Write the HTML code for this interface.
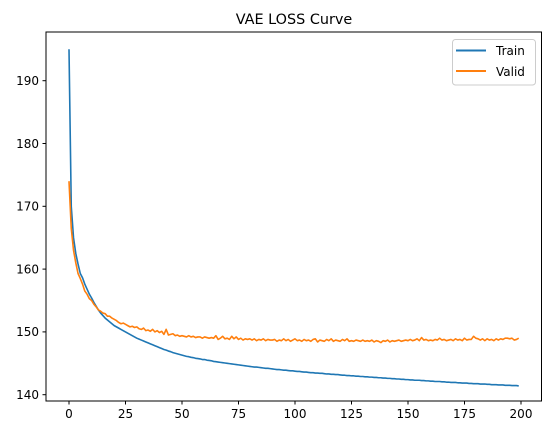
<!DOCTYPE html>
<html><head><meta charset="utf-8"><style>
body{margin:0;background:#fff;}
svg{display:block;font-family:"DejaVu Sans","Liberation Sans",sans-serif;}
</style></head><body>
<svg id="chart" width="552" height="435" viewBox="0 0 552 435">
<text x="294" y="24" text-anchor="middle" font-size="14.4">VAE LOSS Curve</text>
<g id="grid"></g>
<g id="series"></g>
<rect x="46" y="32" width="495.5" height="369" fill="none" stroke="#000" stroke-width="1"/>
<g>
<rect x="452.5" y="39.5" width="83" height="45.5" rx="3" fill="#fff" fill-opacity="0.8" stroke="#ccc"/>
<line x1="456" y1="50.5" x2="486" y2="50.5" stroke="#1f77b4" stroke-width="2"/>
<text x="496" y="55" font-size="12">Train</text>
<line x1="456" y1="71" x2="486" y2="71" stroke="#ff7f0e" stroke-width="2"/>
<text x="496" y="76" font-size="12">Valid</text>
</g>
</svg>
<script>
const xTicks=[0,25,50,75,100,125,150,175,200];
const yTicks=[140,150,160,170,180,190];
const train=[195,170,165,162.5,160.8,159.3,158.6,157.6,156.8,156,
155.4,154.7,154.1,153.5,153,152.6,152.2,151.9,151.6,151.3,
151,150.8,150.6,150.4,150.2,150,149.8,149.6,149.4,149.2,
149,148.85,148.7,148.55,148.4,148.25,148.1,147.95,147.8,147.65,
147.5,147.35,147.2,147.1,146.95,146.85,146.7,146.6,146.5,146.4,
146.3,146.2,146.1,146.05,145.95,145.9,145.8,145.75,145.7,145.6,
145.6,145.5,145.45,145.4,145.3,145.25,145.2,145.15,145.1,145.05,
145,144.95,144.9,144.85,144.8,144.75,144.7,144.65,144.6,144.55,
144.5,144.45,144.4,144.4,144.35,144.3,144.25,144.2,144.2,144.15,
144.1,144.05,144,144,143.95,143.9,143.9,143.85,143.8,143.8,
143.75,143.7,143.7,143.65,143.6,143.6,143.55,143.5,143.5,143.45,
143.45,143.4,143.4,143.35,143.3,143.3,143.25,143.25,143.2,143.2,
143.15,143.1,143.1,143.05,143.05,143,143,142.95,142.95,142.9,
142.9,142.85,142.85,142.8,142.8,142.75,142.75,142.7,142.7,142.65,
142.65,142.6,142.6,142.55,142.55,142.5,142.5,142.45,142.45,142.4,
142.4,142.35,142.35,142.3,142.3,142.3,142.25,142.25,142.2,142.2,
142.15,142.15,142.1,142.1,142.1,142.05,142.05,142,142,141.95,
141.95,141.95,141.9,141.9,141.85,141.85,141.85,141.8,141.8,141.75,
141.75,141.75,141.7,141.7,141.7,141.65,141.65,141.6,141.6,141.6,
141.55,141.55,141.55,141.5,141.5,141.5,141.45,141.45,141.45,141.4];
const valid=[174,166.5,163,161,159.3,158.5,157.6,156.5,156,155.3,
155,154.4,154,153.5,153.3,153,152.9,152.5,152.5,152.2,
152,151.8,151.5,151.3,151.4,151.2,151,150.8,150.9,150.7,
150.8,150.5,150.4,150.6,150.2,150.3,150.1,150.4,150,150.2,
149.9,150.1,149.6,150.4,149.5,149.6,149.7,149.4,149.5,149.3,
149.4,149.3,149.2,149.4,149.2,149.3,149.1,149.2,149.2,149.0,
149.2,149.1,149.0,149.1,149.0,149.4,148.8,149.0,149.3,148.9,
149.0,148.8,149.3,148.9,149.2,148.8,149.0,148.7,148.9,148.8,
148.9,148.7,148.9,148.6,148.8,148.7,148.9,148.6,148.8,148.7,
148.7,148.8,148.5,148.7,148.6,148.9,148.6,148.8,148.5,148.7,
148.9,148.6,148.7,148.5,148.8,148.6,148.7,148.5,148.8,148.9,
148.4,148.7,148.6,148.5,148.8,148.6,148.9,148.5,148.7,148.6,
148.5,148.8,148.6,148.9,148.5,148.6,148.5,148.7,148.6,148.5,
148.7,148.5,148.6,148.5,148.7,148.4,148.6,148.5,148.3,148.6,
148.5,148.7,148.4,148.6,148.5,148.6,148.7,148.5,148.6,148.7,
148.6,148.8,148.6,148.7,148.9,148.6,149.1,148.7,148.8,148.6,
148.7,148.6,148.8,148.7,149.0,148.7,148.8,148.6,148.7,148.8,
148.6,148.9,148.7,148.8,148.6,149.0,148.7,148.8,148.8,149.3,
149.0,148.9,148.7,148.9,148.6,148.9,148.7,148.8,148.6,148.9,
148.7,148.9,148.8,149.0,149.0,148.9,149.0,148.7,148.8,149.0];
const NS="http://www.w3.org/2000/svg";
const X=v=>69+v*2.26;
const Y=v=>394.7-(v-140)*6.28;
const g=document.getElementById('grid');
function mk(tag,attrs,parent){const e=document.createElementNS(NS,tag);for(const k in attrs)e.setAttribute(k,attrs[k]);parent.appendChild(e);return e;}
xTicks.forEach(t=>{
  const l=mk('line',{x1:X(t),x2:X(t),y1:401,y2:404.5,stroke:'#000'},g);
  
  
  const tx=mk('text',{x:X(t),y:418,'text-anchor':'middle','font-size':12},g);
  tx.textContent=t;
  
  
});
yTicks.forEach(t=>{
  const l=mk('line',{x1:42.5,x2:46,y1:Y(t),y2:Y(t),stroke:'#000'},g);
  
  
  const tx=mk('text',{x:39,y:Y(t)+4.3,'text-anchor':'end','font-size':12},g);
  tx.textContent=t;
  
  
});
const s=document.getElementById('series');
function line(arr,color,name){
  const p=mk('polyline',{points:arr.map((v,i)=>X(i).toFixed(2)+','+Y(v).toFixed(2)).join(' '),fill:'none',stroke:color,'stroke-width':1.6,'stroke-linejoin':'round'},s);
  
  
}
line(train,'#1f77b4','train-line');
line(valid,'#ff7f0e','valid-line');
</script>
</body></html>
